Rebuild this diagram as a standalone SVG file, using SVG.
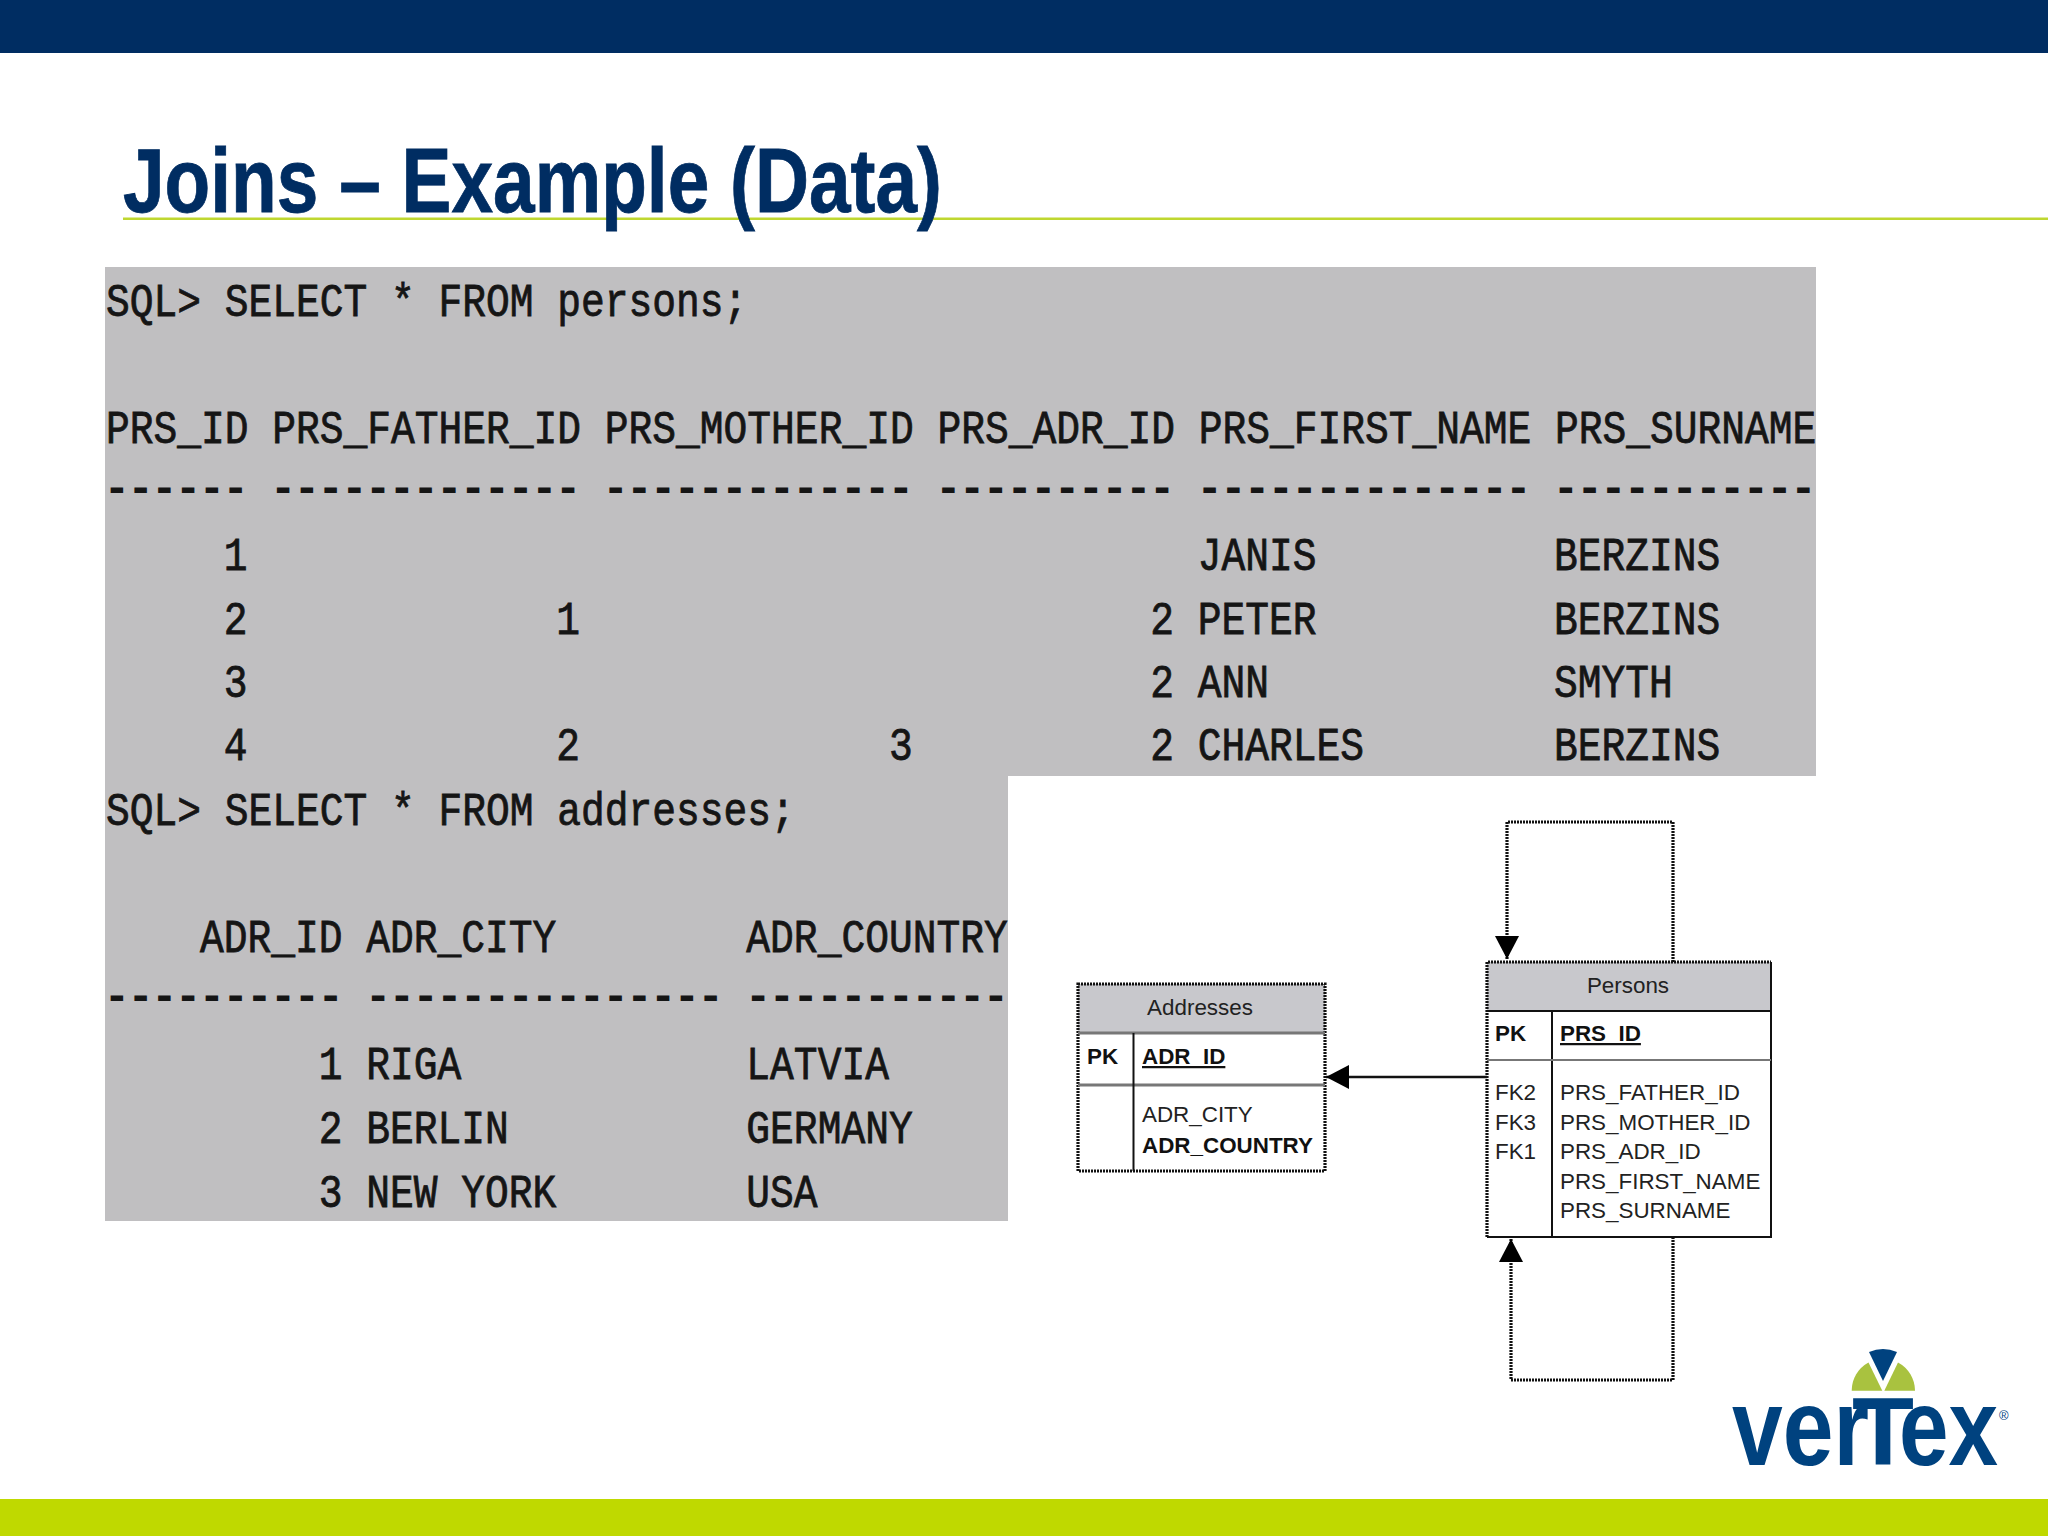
<svg xmlns="http://www.w3.org/2000/svg" width="2048" height="1536" viewBox="0 0 2048 1536">
<style>
.m{font-family:"Liberation Mono","Courier New",monospace;font-size:39.6px;fill:#151515;stroke:#151515;stroke-width:.7;white-space:pre}
.dash{stroke-width:1.6}
.s{font-family:"Liberation Sans",Arial,sans-serif;font-size:22.4px;fill:#222}
.b{font-weight:bold;fill:#111}
.u{text-decoration:underline}
.c{text-anchor:middle}
.d{fill:none;stroke:#111;stroke-width:3.2;stroke-dasharray:2 1}
.l{fill:none;stroke:#111;stroke-width:2}
.g{fill:none;stroke:#777;stroke-width:3}
.logo{font-family:"Liberation Sans",Arial,sans-serif;font-size:110px;fill:#00427f}
</style>
<defs>
<marker id="a" markerUnits="userSpaceOnUse" markerWidth="24" markerHeight="26" refX="23" refY="12" orient="auto"><path d="M0 0L23 12L0 24Z" fill="#000"/></marker>
</defs>
<rect width="2048" height="1536" fill="#fff"/>
<rect id="top-bar" width="2048" height="53" fill="#002d62"/>
<rect id="bottom-bar" y="1499" width="2048" height="37" fill="#bfd900"/>
<rect id="title-rule" x="123" y="217.500" width="1925" height="2.500" fill="#bfd730"/>
<text id="title" x="123" y="212" font-family="Liberation Sans,Arial,sans-serif" font-weight="bold" font-size="90" fill="#002d62" stroke="#002d62" stroke-width=".8" textLength="819" lengthAdjust="spacingAndGlyphs">Joins – Example (Data)</text>
<path id="sql-panel" d="M105 267H1816V776H1008V1221H105Z" fill="#c0bfc1"/>
<g id="sql-text">
<text class="m" transform="matrix(1 0 0 1.15 106 316)">SQL&gt; SELECT * FROM persons;</text>
<text class="m" transform="matrix(1 0 0 1.15 106 443)">PRS_ID PRS_FATHER_ID PRS_MOTHER_ID PRS_ADR_ID PRS_FIRST_NAME PRS_SURNAME</text>
<text class="m dash" transform="matrix(1 0 0 1.15 105 503)">------ ------------- ------------- ---------- -------------- -----------</text>
<text class="m" transform="matrix(1 0 0 1.15 105 570)">     1                                        JANIS          BERZINS</text>
<text class="m" transform="matrix(1 0 0 1.15 105 634)">     2             1                        2 PETER          BERZINS</text>
<text class="m" transform="matrix(1 0 0 1.15 105 697)">     3                                      2 ANN            SMYTH</text>
<text class="m" transform="matrix(1 0 0 1.15 105 760)">     4             2             3          2 CHARLES        BERZINS</text>
<text class="m" transform="matrix(1 0 0 1.15 106 825)">SQL&gt; SELECT * FROM addresses;</text>
<text class="m" transform="matrix(1 0 0 1.15 105 952)">    ADR_ID ADR_CITY        ADR_COUNTRY</text>
<text class="m dash" transform="matrix(1 0 0 1.15 105 1011)">---------- --------------- -----------</text>
<text class="m" transform="matrix(1 0 0 1.15 105 1079)">         1 RIGA            LATVIA</text>
<text class="m" transform="matrix(1 0 0 1.15 105 1143)">         2 BERLIN          GERMANY</text>
<text class="m" transform="matrix(1 0 0 1.15 105 1207)">         3 NEW YORK        USA</text>
</g>
<g id="connectors">
<path class="d" d="M1673 962V822H1507V959" marker-end="url(#a)"/>
<path class="d" d="M1673 1237V1380H1511V1239" marker-end="url(#a)"/>
<path class="l" d="M1487 1077H1326" style="stroke-width:2.6" marker-end="url(#a)"/>
</g>
<g id="addresses">
<rect x="1078" y="984" width="247" height="49" fill="#c8c8cc"/>
<rect class="d" x="1078" y="984" width="247" height="187"/>
<path class="g" d="M1078 1033H1325M1078 1085H1325"/>
<path class="l" d="M1133.500 1033V1171"/>
<text class="s c" x="1200" y="1015">Addresses</text>
<text class="s b" x="1087" y="1064">PK</text>
<text class="s b u" x="1142" y="1064">ADR_ID</text>
<text class="s" x="1142" y="1122">ADR_CITY</text>
<text class="s b" x="1142" y="1153">ADR_COUNTRY</text>
</g>
<g id="persons">
<rect x="1487" y="962" width="284" height="49" fill="#c8c8cc"/>
<path class="d" d="M1487 1237V962H1771"/>
<path class="l" d="M1771 962V1237H1487M1487 1011H1771M1552 1011V1237"/>
<path class="g" d="M1487 1060H1771" style="stroke-width:2"/>
<text class="s c" x="1628" y="992.500">Persons</text>
<text class="s b" x="1495" y="1041">PK</text>
<text class="s b u" x="1560" y="1041">PRS_ID</text>
<text class="s" x="1495" y="1100">FK2</text>
<text class="s" x="1495" y="1130">FK3</text>
<text class="s" x="1495" y="1159">FK1</text>
<text class="s" x="1560" y="1100">PRS_FATHER_ID</text>
<text class="s" x="1560" y="1130">PRS_MOTHER_ID</text>
<text class="s" x="1560" y="1159">PRS_ADR_ID</text>
<text class="s" x="1560" y="1189">PRS_FIRST_NAME</text>
<text class="s" x="1560" y="1218">PRS_SURNAME</text>
</g>
<g id="logo">
<path d="M1869 1352Q1883 1346 1897 1352L1883 1381Z" fill="#00427f"/>
<path d="M1851.700 1390.700A32 32 0 0 1 1868.500 1362.500L1882.300 1390.700Z" fill="#a9c23f"/>
<path d="M1915 1390.700A32 32 0 0 0 1898 1362.500L1884.300 1390.700Z" fill="#a9c23f"/>
<text class="logo" y="1465" font-weight="bold"><tspan x="1732" textLength="137" lengthAdjust="spacingAndGlyphs">ver</tspan><tspan x="1852" font-size="96" textLength="62" lengthAdjust="spacingAndGlyphs">T</tspan><tspan x="1899" textLength="99" lengthAdjust="spacingAndGlyphs">ex</tspan></text>
<text x="1999" y="1420" font-family="Liberation Sans,sans-serif" font-size="13" fill="#00427f">®</text>
</g>
</svg>
